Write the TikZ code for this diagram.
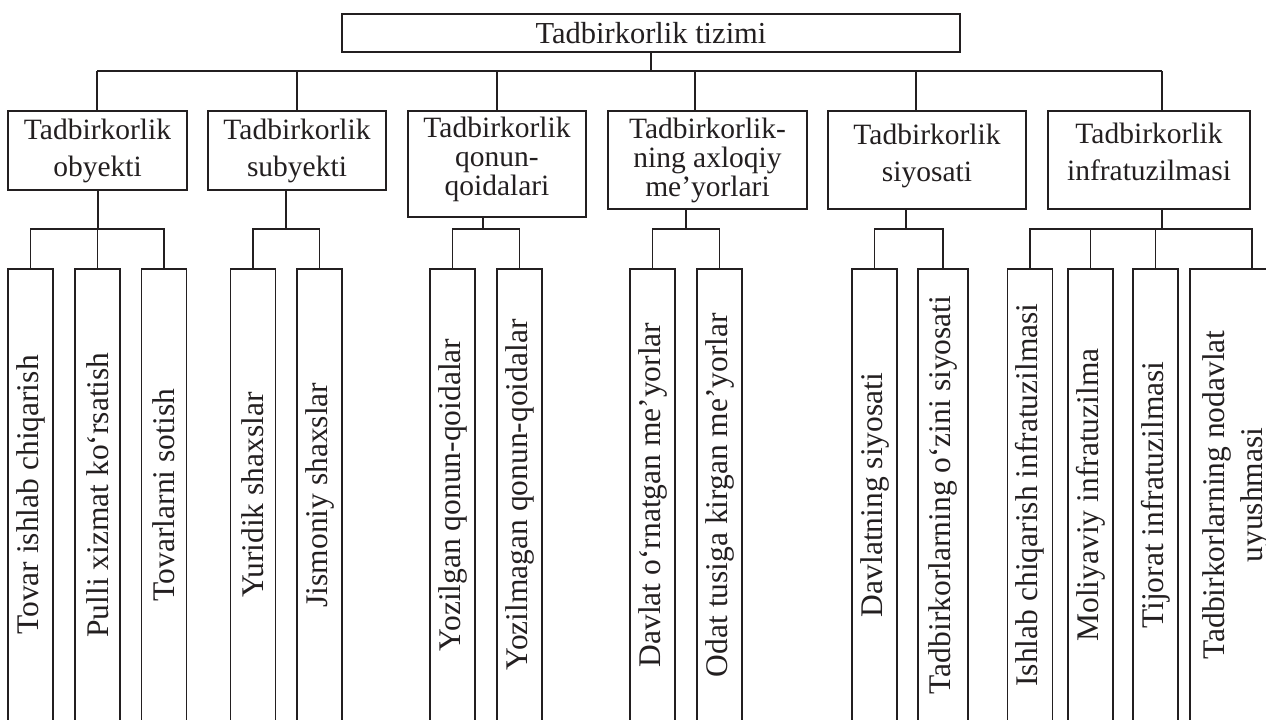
\documentclass[tikz,border=0pt]{standalone}
\usepackage{fontspec}
\setmainfont{Liberation Serif}
\definecolor{ink}{HTML}{231F20}
\begin{document}
\begin{tikzpicture}[x=0.5pt,y=-0.5pt,
  every node/.style={inner sep=0pt, outer sep=0pt},
  box/.style={draw=ink, line width=0.9pt, text=ink},
  lev/.style={box, align=center, font=\fontsize{14.75}{18.5}\selectfont},
  levtight/.style={box, align=center, font=\fontsize{14.75}{14.5}\selectfont},
  leaf/.style={box, rotate=90, minimum width=226pt, minimum height=22.5pt, align=center, font=\fontsize{15.75}{21}\selectfont},
  link/.style={draw=ink, line width=0.9pt}]
\useasboundingbox (0,0) rectangle (1266,719);
\clip (0,0) rectangle (1266,719);

% root
\node[box, minimum width=309pt, minimum height=19pt, font=\fontsize{15.25}{18}\selectfont] (top) at (651,33) {Tadbirkorlik tizimi};

% level 1
\node[lev, minimum width=89.5pt, minimum height=39.5pt] (b1) at (97.5,150.5) {Tadbirkorlik\\obyekti};
\node[lev, minimum width=89pt, minimum height=39.5pt] (b2) at (297,150.5) {Tadbirkorlik\\subyekti};
\node[levtight, minimum width=89pt, minimum height=53pt, text depth=8.2pt] (b3) at (497,164) {Tadbirkorlik\\qonun-\\qoidalari};
\node[levtight, minimum width=99.5pt, minimum height=49pt] (b4) at (707.5,160) {Tadbirkorlik-\\ning axloqiy\\me’yorlari};
\node[lev, minimum width=99pt, minimum height=49pt, text depth=7.2pt] (b5) at (927,160) {Tadbirkorlik\\siyosati};
\node[lev, minimum width=101pt, minimum height=49pt, text depth=8pt] (b6) at (1149,160) {Tadbirkorlik\\infratuzilmasi};

% leaves
\node[leaf] (c1) at (30.5,495) {Tovar ishlab chiqarish};
\node[leaf] (c2) at (97.5,495) {Pulli xizmat ko‘rsatish};
\node[leaf] (c3) at (164,495) {Tovarlarni sotish};
\node[leaf] (c4) at (253,495) {Yuridik shaxslar};
\node[leaf] (c5) at (319.5,495) {Jismoniy shaxslar};
\node[leaf] (c6) at (452.5,495) {Yozilgan qonun-qoidalar};
\node[leaf] (c7) at (519.5,495) {Yozilmagan qonun-qoidalar};
\node[leaf] (c8) at (652.5,495) {Davlat o‘rnatgan me’yorlar};
\node[leaf] (c9) at (719.5,495) {Odat tusiga kirgan me’yorlar};
\node[leaf] (c10) at (874.5,495) {Davlatning siyosati};
\node[leaf, minimum height=25pt] (c11) at (943,495) {Tadbirkorlarning o‘zini siyosati};
\node[leaf] (c12) at (1030,495) {Ishlab chiqarish infratuzilmasi};
\node[leaf] (c13) at (1090.5,495) {Moliyaviy infratuzilma};
\node[leaf] (c14) at (1155.5,495) {Tijorat infratuzilmasi};
\node[leaf, minimum height=46pt, font=\fontsize{15.75}{19}\selectfont] (c15) at (1236,495) {Tadbirkorlarning nodavlat\\uyushmasi};

% root bus
\coordinate (bl) at (97,71);
\coordinate (br) at (1162,71);
\coordinate (d1) at (97,71);
\coordinate (d2) at (297,71);
\coordinate (d3) at (497,71);
\coordinate (d4) at (695,71);
\coordinate (d5) at (916,71);
\coordinate (d6) at (1162,71);
\draw[link] (top.south) -- (top.south |- bl);
\draw[link] (bl) -- (br);
\draw[link] (d1) -- (d1 |- b1.north);
\draw[link] (d2) -- (d2 |- b2.north);
\draw[link] (d3) -- (d3 |- b3.north);
\draw[link] (d4) -- (d4 |- b4.north);
\draw[link] (d5) -- (d5 |- b5.north);
\draw[link] (d6) -- (d6 |- b6.north);

% group 1
\coordinate (g1) at (98,229);
\draw[link] (g1 |- b1.south) -- (g1);
\draw[link] (c1.east) -- (c1.east |- g1) -- (c3.east |- g1) -- (c3.east);
\draw[link] (c2.east |- g1) -- (c2.east);
% group 2
\coordinate (g2) at (286,229);
\draw[link] (g2 |- b2.south) -- (g2);
\draw[link] (c4.east) -- (c4.east |- g2) -- (c5.east |- g2) -- (c5.east);
% group 3
\coordinate (g3) at (483,229);
\draw[link] (g3 |- b3.south) -- (g3);
\draw[link] (c6.east) -- (c6.east |- g3) -- (c7.east |- g3) -- (c7.east);
% group 4
\coordinate (g4) at (686,229);
\draw[link] (g4 |- b4.south) -- (g4);
\draw[link] (c8.east) -- (c8.east |- g4) -- (c9.east |- g4) -- (c9.east);
% group 5
\coordinate (g5) at (906,229);
\draw[link] (g5 |- b5.south) -- (g5);
\draw[link] (c10.east) -- (c10.east |- g5) -- (c11.east |- g5) -- (c11.east);
% group 6
\coordinate (g6) at (1162,229);
\coordinate (e15) at (1252,229);
\draw[link] (g6 |- b6.south) -- (g6);
\draw[link] (c12.east) -- (c12.east |- g6) -- (e15) -- (e15 |- c15.east);
\draw[link] (c13.east |- g6) -- (c13.east);
\draw[link] (c14.east |- g6) -- (c14.east);
\end{tikzpicture}
\end{document}
